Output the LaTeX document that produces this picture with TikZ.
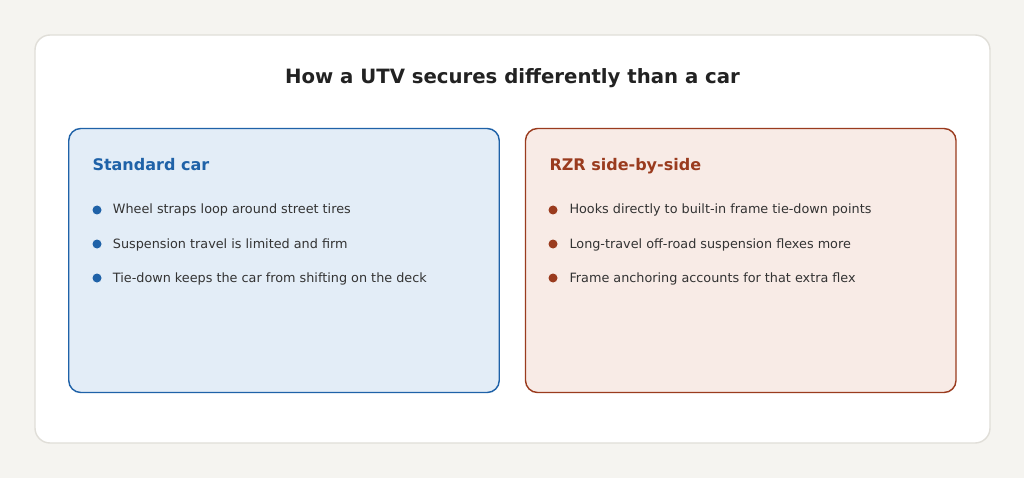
\documentclass[tikz,border=0pt]{standalone}
\usepackage{fontspec}
\setmainfont{DejaVu Sans}
\usepackage{tikz}
\definecolor{pagebg}{HTML}{F5F4F0}
\definecolor{cardline}{HTML}{E0DED8}
\definecolor{titleink}{HTML}{222222}
\definecolor{itemink}{HTML}{333333}
\definecolor{carblue}{HTML}{1F62A8}
\definecolor{carfill}{HTML}{E3EDF7}
\definecolor{rzrred}{HTML}{9A3B1E}
\definecolor{rzrfill}{HTML}{F8EBE6}
\usetikzlibrary{positioning}
\tikzset{
	card/.style={draw=cardline, fill=white, line width=1.4pt, rounded corners=15pt,
		minimum width=955pt, minimum height=408pt, inner sep=0pt},
	panel/.style={line width=1.4pt, rounded corners=12pt,
		minimum width=430.5pt, minimum height=264pt, inner sep=0pt},
	heading/.style={font=\fontsize{16}{19}\selectfont\bfseries, inner sep=0pt, anchor=base west},
	item/.style={font=\fontsize{12.8}{15}\selectfont, text=itemink, inner sep=0pt, anchor=base west},
	bullet/.style={circle, inner sep=0pt, minimum size=9pt}
}

\begin{document}
\begin{tikzpicture}[x=1pt, y=-1pt]
	% page and card
	\fill[pagebg] (0,0) rectangle (1024,478);
	\node[card] (card) at (512.5,239) {};
	\node[font=\fontsize{19.7}{23}\selectfont\bfseries, text=titleink, inner sep=0pt, anchor=base]
		(title) at (512.5,83.5) {How a UTV secures differently than a car};

	% left panel: standard car
	\node[panel, draw=carblue, fill=carfill] (carbox) at (284,260.5) {};
	\node[heading, text=carblue] (carhead) at (92.3,170.5) {Standard car};
	\node[bullet, fill=carblue] (cardot1) at (97,210) {};
	\node[bullet, fill=carblue] (cardot2) at (97,244) {};
	\node[bullet, fill=carblue] (cardot3) at (97,278) {};
	\node[item] (caritem1) at (112.7,214) {Wheel straps loop around street tires};
	\node[item] (caritem2) at (112.7,248) {Suspension travel is limited and firm};
	\node[item] (caritem3) at (112.7,282) {Tie-down keeps the car from shifting on the deck};

	% right panel: RZR
	\node[panel, draw=rzrred, fill=rzrfill] (rzrbox) at (740.75,260.5) {};
	\node[heading, text=rzrred] (rzrhead) at (549.3,170.5) {RZR side-by-side};
	\node[bullet, fill=rzrred] (rzrdot1) at (553,210) {};
	\node[bullet, fill=rzrred] (rzrdot2) at (553,244) {};
	\node[bullet, fill=rzrred] (rzrdot3) at (553,278) {};
	\node[item] (rzritem1) at (569.3,214) {Hooks directly to built-in frame tie-down points};
	\node[item] (rzritem2) at (569.3,248) {Long-travel off-road suspension flexes more};
	\node[item] (rzritem3) at (569.3,282) {Frame anchoring accounts for that extra flex};
\end{tikzpicture}
\end{document}
